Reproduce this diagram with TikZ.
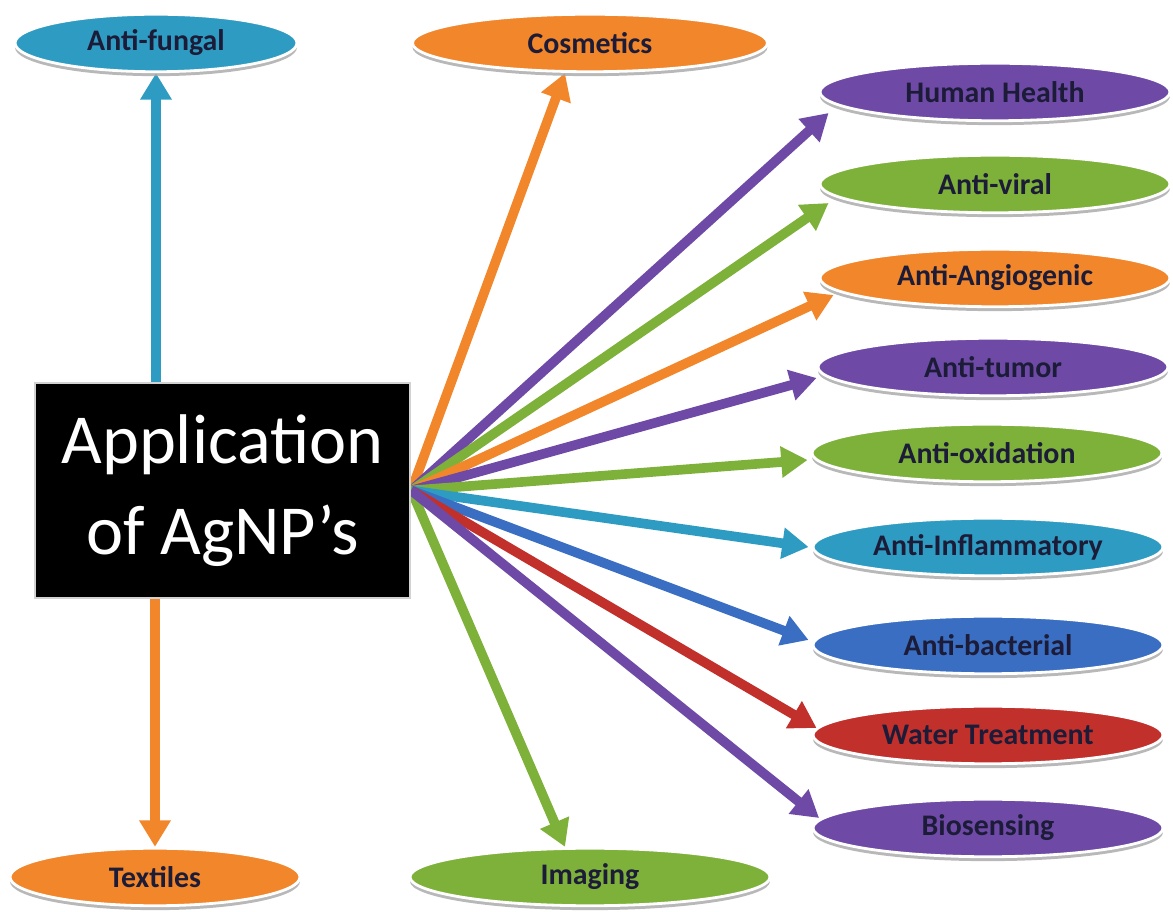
\documentclass[tikz,border=0pt]{standalone}
\usepackage{fontspec}
\setmainfont{Carlito}
\usetikzlibrary{positioning, arrows.meta, shapes.geometric, shadows, backgrounds}

\definecolor{agteal}{HTML}{2E9CC2}
\definecolor{agorange}{HTML}{F2862A}
\definecolor{agpurple}{HTML}{6E4AA6}
\definecolor{aggreen}{HTML}{7EB13A}
\definecolor{agblue}{HTML}{3A6EC2}
\definecolor{agred}{HTML}{C2302C}
\definecolor{labeltext}{HTML}{1C1C38}

\begin{document}
\begin{tikzpicture}[
  bubble/.style={ellipse, draw=white, line width=1.6pt, fill=#1,
                 minimum width=7cm, minimum height=1.15cm, inner sep=0pt,
                 font=\fontsize{17}{20}\selectfont\bfseries, text=labeltext,
                 drop shadow={shadow xshift=0pt, shadow yshift=-2.5pt,
                              fill=gray!70, opacity=0.8}},
  hubbox/.style={rectangle, fill=black, draw=gray!35, line width=1.5pt,
                 minimum width=7.5cm, minimum height=4.3cm, align=center,
                 text=white, font=\fontsize{40}{52}\selectfont},
  arrow/.style={-{Triangle[length=15pt, width=17pt]}, line width=5.5pt, draw=#1}
]
\useasboundingbox (0,0) rectangle (23.46,18.24);

% ==================== CENTRE ====================
\node[hubbox] (hub) at (4.45,8.43) {Application\\of AgNP’s};

% ==================== TOP / BOTTOM ====================
\node[bubble=agteal, minimum width=5.64cm] (fungal) at (3.12,17.38) {Anti-fungal};
\node[bubble=agorange, minimum width=7.1cm] (cosmetics) at (11.8,17.38) {Cosmetics};
\node[bubble=agorange, minimum width=5.8cm] (textiles) at (3.1,0.7) {Textiles};
\node[bubble=aggreen, minimum width=7.2cm] (imaging) at (11.8,0.7) {Imaging};

% ==================== RIGHT COLUMN ====================
\node[bubble=agpurple] (health)  at (19.9,16.4)  {Human Health};
\node[bubble=aggreen]  (viral)   at (19.9,14.56) {Anti-viral};
\node[bubble=agorange] (angio)   at (19.9,12.68) {Anti-Angiogenic};
\node[bubble=agpurple] (tumor)   at (19.86,10.9) {Anti-tumor};
\node[bubble=aggreen]  (oxid)    at (19.74,9.18) {Anti-oxidation};
\node[bubble=agteal]   (inflam)  at (19.76,7.3)  {Anti-Inflammatory};
\node[bubble=agblue]   (bact)    at (19.76,5.34) {Anti-bacterial};
\node[bubble=agred]    (water)   at (19.76,3.54) {Water Treatment};
\node[bubble=agpurple] (biosens) at (19.76,1.68) {Biosensing};

% ==================== ARROWS ====================
\begin{pgfonlayer}{background}
  \draw[arrow=agteal]   (hub.north -| fungal) -- (fungal.south);
  \draw[arrow=agorange] (hub.south -| textiles) -- (textiles.north);
  \draw[arrow=agorange] (hub.east) -- ([xshift=-0.5cm]cosmetics.south);
  \draw[arrow=aggreen]  (hub.east) -- ([xshift=-0.5cm]imaging.north);

  \draw[arrow=agpurple] (hub.east) -- ([xshift=0.2cm, yshift=-0.42cm]health.west);
  \draw[arrow=aggreen]  (hub.east) -- ([xshift=0.2cm, yshift=-0.38cm]viral.west);
  \draw[arrow=agorange] (hub.east) -- ([xshift=0.3cm, yshift=-0.34cm]angio.west);
  \draw[arrow=agpurple] (hub.east) -- ([yshift=-0.22cm]tumor.west);
  \draw[arrow=aggreen]  (hub.east) -- ([xshift=-0.06cm, yshift=-0.14cm]oxid.west);
  \draw[arrow=agteal]   (hub.east) -- ([xshift=-0.06cm]inflam.west);
  \draw[arrow=agblue]   (hub.east) -- ([xshift=-0.06cm, yshift=0.1cm]bact.west);
  \draw[arrow=agred]    (hub.east) -- ([xshift=0.1cm, yshift=0.14cm]water.west);
  \draw[arrow=agpurple] (hub.east) -- ([xshift=0.15cm, yshift=0.2cm]biosens.west);
\end{pgfonlayer}

\end{tikzpicture}
\end{document}
